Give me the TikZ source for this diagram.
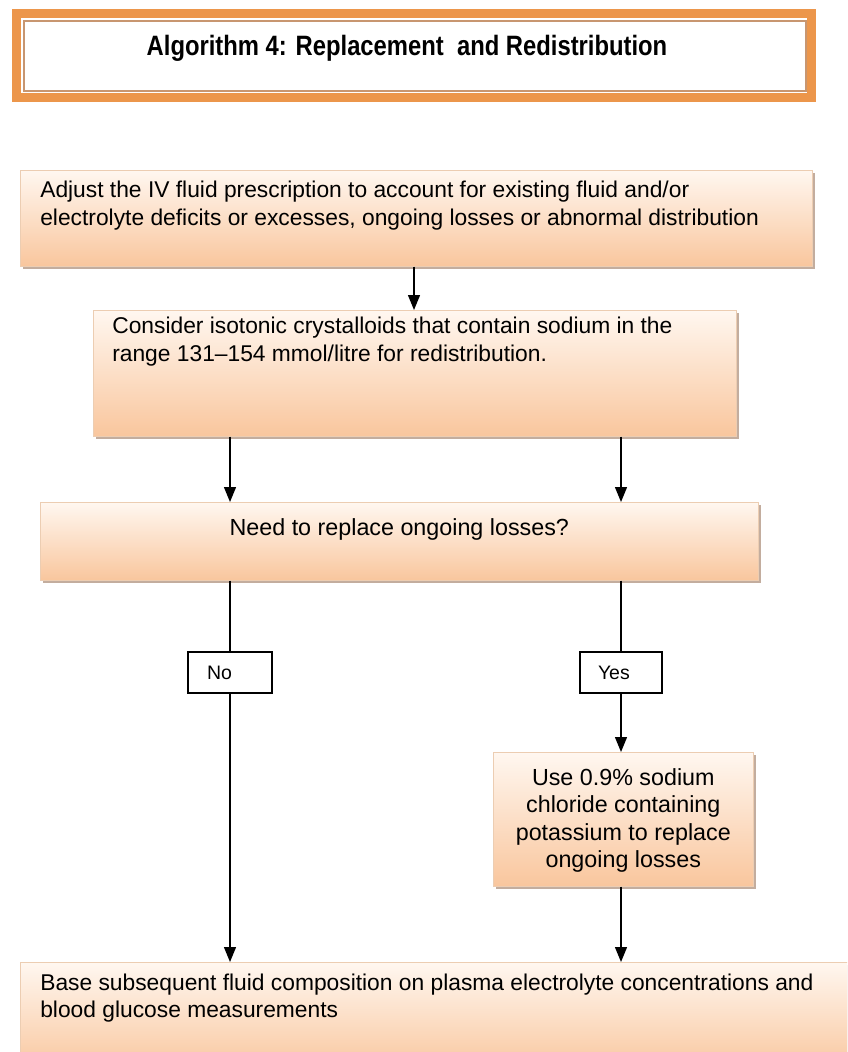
\documentclass[tikz,border=0pt]{standalone}
\usepackage{fontspec}
\setmainfont{Liberation Sans}
\newfontfamily\titlefont{Liberation Sans}[FakeStretch=0.85]
\usetikzlibrary{arrows.meta,shadows}
\definecolor{peachTop}{RGB}{255,247,240}
\definecolor{peachBot}{RGB}{249,198,157}
\definecolor{peachEdge}{RGB}{236,205,178}
\definecolor{frameOrange}{RGB}{236,150,75}
\definecolor{frameTan}{RGB}{200,150,112}
\definecolor{shadowCol}{RGB}{175,145,125}
% #1 width, #2 height, #3 left indent, #4 top gap, #5 text
\newcommand{\boxcontent}[5]{\parbox[c][#2][t]{#1}{\vspace*{#4}\raggedright\setlength{\leftskip}{#3}\noindent #5\par}}
\newcommand{\boxcentred}[4]{\parbox[c][#2][t]{#1}{\vspace*{#3}\centering #4\par}}
\tikzset{
  flowbox/.style={draw=peachEdge, line width=0.6pt, top color=peachTop, bottom color=peachBot,
    inner sep=0pt, anchor=north west, font=\fontsize{22.8}{28}\selectfont,
    drop shadow={shadow xshift=3pt, shadow yshift=-3pt, fill=shadowCol, opacity=0.75}},
  labbox/.style={draw, line width=1.3pt, fill=white, inner sep=0pt, font=\fontsize{19.5}{21}\selectfont},
  arr/.style={-{Triangle[width=12pt,length=15pt]}, line width=1.3pt},
  ln/.style={line width=1.3pt}
}
\begin{document}
\begin{tikzpicture}[x=1pt,y=-1pt]
\useasboundingbox (0,0) rectangle (847,1052);
\clip (0,0) rectangle (847,1052);
% title
\node[draw=frameOrange, line width=9pt, minimum width=795pt, minimum height=84pt, inner sep=0pt] (tframe) at (414,55.5) {};
\node[draw=frameTan, line width=1.5pt, fill=white, minimum width=782pt, minimum height=70pt, inner sep=0pt] (tinner) at (415,56) {};
\node[anchor=base, font=\fontsize{28}{30}\titlefont\bfseries] (ttext) at (407,55) {Algorithm 4: Replacement\ \ and Redistribution};
% boxes
\node[flowbox] (b1) at (20,170) {\boxcontent{792pt}{96pt}{20pt}{11pt}{Adjust the IV fluid prescription to account for existing fluid and/or\\electrolyte deficits or excesses, ongoing losses or abnormal distribution}};
\node[flowbox] (b2) at (93,310) {\boxcontent{643pt}{126pt}{19pt}{7pt}{Consider isotonic crystalloids that contain sodium in the\\range 131--154 mmol/litre for redistribution.}};
\node[flowbox, font=\fontsize{23.3}{28}\selectfont] (b3) at (40,502) {\boxcentred{718pt}{78pt}{16pt}{Need to replace ongoing losses?}};
\node[labbox] (no) at (230,672.5) {\parbox[c][41pt][c]{84pt}{\hspace*{19pt}No}};
\node[labbox] (yes) at (621,672.5) {\parbox[c][41pt][c]{82pt}{\hspace*{18pt}Yes}};
\node[flowbox, font=\fontsize{23.3}{27.6}\selectfont] (b4) at (493,752) {\boxcentred{260pt}{134pt}{16pt}{Use 0.9\% sodium\\chloride containing\\potassium to replace\\ongoing losses}};
\node[flowbox, font=\fontsize{22.8}{27}\selectfont] (b5) at (20,962) {\boxcontent{840pt}{110pt}{20pt}{12pt}{Base subsequent fluid composition on plasma electrolyte concentrations and\\blood glucose measurements}};
% connectors
\coordinate (xM) at (414,0);
\draw[arr] (b1.south -| xM) -- (b2.north -| xM);
\draw[arr] (b2.south -| no.north) -- (b3.north -| no.north);
\draw[arr] (b2.south -| yes.north) -- (b3.north -| yes.north);
\draw[ln] (b3.south -| no.north) -- (no.north);
\draw[ln] (b3.south -| yes.north) -- (yes.north);
\draw[arr] (no.south) -- (b5.north -| no.south);
\draw[arr] (yes.south) -- (b4.north -| yes.south);
\draw[arr] (b4.south -| yes.south) -- (b5.north -| yes.south);
\end{tikzpicture}
\end{document}
